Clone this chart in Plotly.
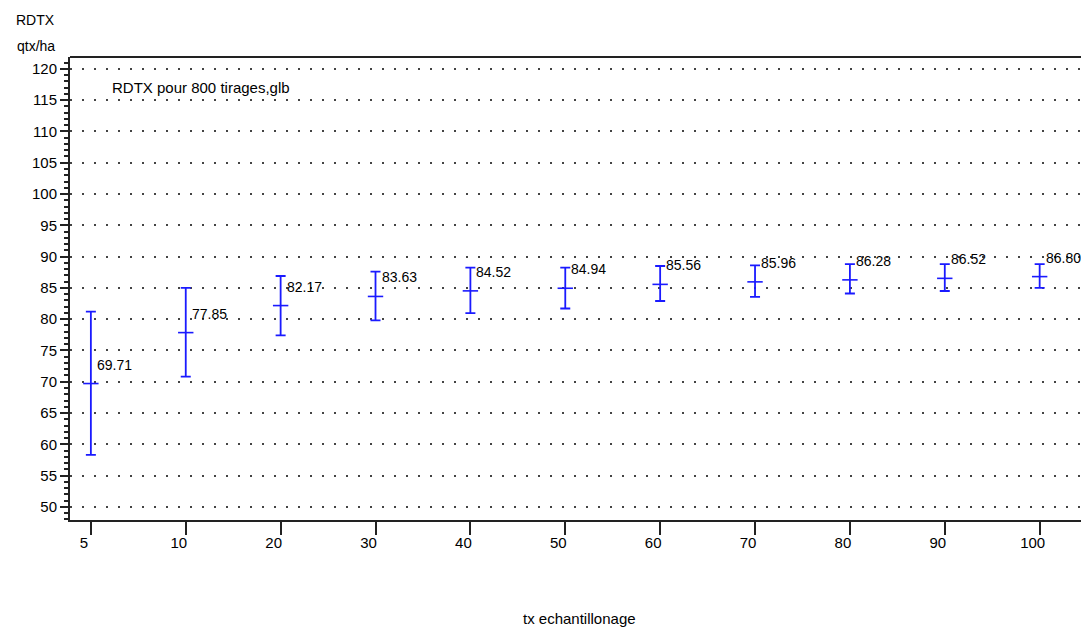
import plotly.graph_objects as go

categories = ["5", "10", "20", "30", "40", "50", "60", "70", "80", "90", "100"]
means = [69.71, 77.85, 82.17, 83.63, 84.52, 84.94, 85.56, 85.96, 86.28, 86.52, 86.80]
upper = [81.2, 85.0, 86.9, 87.6, 88.25, 88.25, 88.5, 88.6, 88.8, 88.8, 88.8]
lower = [58.3, 70.8, 77.4, 79.8, 80.95, 81.7, 82.9, 83.55, 84.1, 84.5, 85.0]
y_ticks = list(range(50, 121, 5))

BLUE = "#1a1aff"
AX = "#222222"
FONT = "Liberation Sans"

err_plus = [u - m for u, m in zip(upper, means)]
err_minus = [m - l for m, l in zip(means, lower)]

fig = go.Figure()
fig.add_trace(go.Scatter(
    x=categories, y=means, mode="markers",
    marker=dict(symbol="line-ew", size=11, line=dict(color=BLUE, width=1.6), color=BLUE),
    error_y=dict(type="data", symmetric=False, array=err_plus, arrayminus=err_minus,
                 color=BLUE, thickness=1.8, width=5),
    showlegend=False, hoverinfo="skip",
))

for i, m in enumerate(means):
    fig.add_annotation(x=i, y=m, text=f"{m:.2f}", showarrow=False,
                       xanchor="left", yanchor="middle", xshift=4, yshift=19,
                       font=dict(family=FONT, size=14, color="black"))

fig.add_annotation(xref="paper", yref="paper", x=0.0393, y=0.935,
                   text="RDTX pour 800 tirages,glb", showarrow=False,
                   xanchor="left", yanchor="middle",
                   font=dict(family=FONT, size=15, color="black"))

fig.add_annotation(xref="paper", yref="paper", x=-0.0334, y=1.080,
                   text="RDTX", showarrow=False,
                   xanchor="center", yanchor="middle",
                   font=dict(family=FONT, size=14, color="black"))
fig.add_annotation(xref="paper", yref="paper", x=-0.0334, y=1.024,
                   text="qtx/ha", showarrow=False,
                   xanchor="center", yanchor="middle",
                   font=dict(family=FONT, size=14, color="black"))

fig.add_annotation(xref="paper", yref="paper", x=0.5, y=-0.2117,
                   text="tx echantillonage", showarrow=False,
                   xanchor="center", yanchor="middle",
                   font=dict(family=FONT, size=15, color="black"))

fig.add_shape(type="line", xref="paper", yref="paper", x0=0, x1=1, y0=1, y1=1,
              line=dict(color=AX, width=2))

fig.update_layout(
    width=1081, height=619,
    margin=dict(l=62, r=0, t=49, b=107),
    plot_bgcolor="white", paper_bgcolor="white",
    font=dict(family=FONT, size=15, color="black"),
    xaxis=dict(
        type="category", range=[-0.22, 10.52],
        showline=True, linecolor=AX, linewidth=2,
        ticks="outside", ticklen=13, tickwidth=2, tickcolor=AX,
        ticklabelshift=-7, ticklabelstandoff=-5,
        showgrid=False, zeroline=False,
        tickfont=dict(family=FONT, size=15),
    ),
    yaxis=dict(
        range=[47.9, 121.9],
        tickmode="array", tickvals=y_ticks, ticktext=[str(v) for v in y_ticks],
        showline=True, linecolor=AX, linewidth=2,
        ticks="outside", ticklen=8, tickwidth=2, tickcolor=AX,
        minor=dict(dtick=1, ticks="outside", ticklen=4, tickwidth=1.5, tickcolor=AX, showgrid=False),
        showgrid=True, gridcolor="#444444", gridwidth=1.5, griddash="1.5px,10.5px",
        zeroline=False,
        tickfont=dict(family=FONT, size=15),
        ticklabelstandoff=0,
    ),
)

fig.write_html("out.html")
